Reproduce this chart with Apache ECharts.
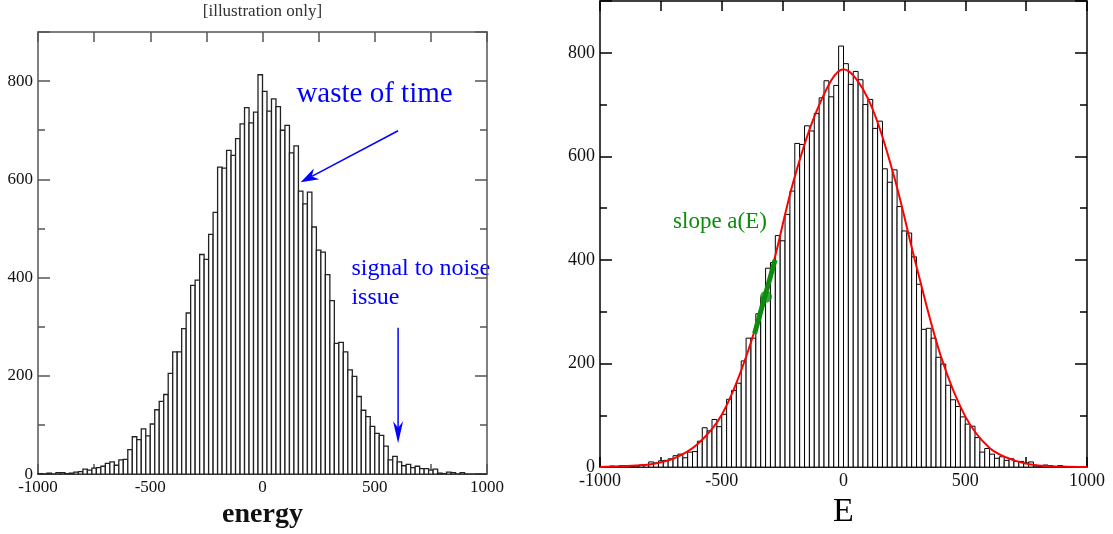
<!DOCTYPE html>
<html>
<head>
<meta charset="utf-8">
<script src="https://cdn.jsdelivr.net/npm/echarts@6/dist/echarts.min.js"></script>
<style>
  html, body { margin: 0; padding: 0; background: #fff; }
  #main { width: 1113px; height: 534px; }
</style>
</head>
<body>
<div id="main"></div>
<script>
// histogram: 100 bins of width 20 between -1000 and 1000
var binStart = -1000;
var binWidth = 20;
var counts = [
  1, 0, 2, 0, 3, 3, 1, 2, 4, 5,
  10, 8, 12, 13, 16, 22, 25, 18, 29, 30,
  50, 76, 70, 92, 78, 102, 131, 148, 162, 205,
  249, 249, 296, 328, 384, 395, 447, 437, 488, 533,
  625, 623, 659, 649, 683, 713, 746, 715, 737, 813,
  779, 739, 764, 748, 700, 710, 654, 668, 576, 550,
  574, 503, 456, 452, 406, 353, 266, 268, 249, 212,
  199, 158, 130, 117, 97, 83, 79, 57, 29, 36,
  25, 17, 20, 13, 16, 11, 11, 8, 10, 2,
  1, 4, 3, 0, 3, 0, 0, 0, 0, 0
];

// red fit curve
var curveX = [-1000, -900, -800, -700, -600, -500, -400, -300, -200, -100, 0,
              100, 200, 300, 400, 500, 600, 700, 800, 900, 1000];
var curveY = [0, 2, 5, 16, 44, 101, 213, 371, 561, 699, 768,
              712, 574, 387, 214, 98, 37, 13, 3, 1, 0];

// green slope segment and its point
var slopeX = [-365, -281];
var slopeY = [258, 400];
var slopePoint = [-318, 329];

var xTicks = [-1000, -500, 0, 500, 1000];
var yTicks = [0, 200, 400, 600, 800];

var serif = '"Liberation Serif", "DejaVu Serif", serif';

var histData = counts.map(function (c, i) {
  return [binStart + binWidth * (i + 0.5), c];
});

function histItem(stroke, width) {
  return function (params, api) {
    var x = api.value(0), y = api.value(1);
    var p0 = api.coord([x - binWidth / 2, y]);
    var p1 = api.coord([x + binWidth / 2, 0]);
    return {
      type: 'rect',
      shape: { x: p0[0], y: p0[1], width: p1[0] - p0[0], height: p1[1] - p0[1] },
      style: { fill: '#fff', stroke: stroke, lineWidth: width }
    };
  };
}

function plain(v) { return String(v); }

function xAxes(g, color, labelSize, name, nameStyle, nameGap) {
  var base = {
    gridIndex: g, type: 'value', min: xTicks[0], max: xTicks[xTicks.length - 1], interval: 500,
    axisLine: { onZero: false, lineStyle: { color: color, width: 1.5 } },
    axisTick: { inside: true, length: 10, lineStyle: { color: color, width: 1.5 } },
    minorTick: { show: true, splitNumber: 2, length: 10, lineStyle: { color: color, width: 1.5 } },
    splitLine: { show: false }
  };
  var bottom = Object.assign({}, base, {
    position: 'bottom',
    axisLabel: { fontFamily: serif, fontSize: labelSize, color: '#111', margin: 5, formatter: plain },
    name: name, nameLocation: 'middle', nameGap: nameGap,
    nameTextStyle: nameStyle
  });
  var top = Object.assign({}, base, { position: 'top', axisLabel: { show: false } });
  return [bottom, top];
}

function yAxes(g, color, labelSize) {
  var base = {
    gridIndex: g, type: 'value', min: 0, max: 900, interval: 200,
    axisLine: { onZero: false, lineStyle: { color: color, width: 1.5 } },
    axisTick: { inside: true, length: 12, lineStyle: { color: color, width: 1.5 } },
    minorTick: { show: true, splitNumber: 2, length: 7, lineStyle: { color: color, width: 1.5 } },
    splitLine: { show: false }
  };
  var left = Object.assign({}, base, {
    position: 'left',
    axisLabel: { fontFamily: serif, fontSize: labelSize, color: '#111', margin: 5,
                 showMaxLabel: false, formatter: plain }
  });
  var right = Object.assign({}, base, { position: 'right', axisLabel: { show: false } });
  return [left, right];
}

var chart = echarts.init(document.getElementById('main'));

chart.setOption({
  animation: false,
  backgroundColor: '#fff',
  grid: [
    { left: 38, top: 32, width: 449, height: 449 },
    { left: 600, top: 1, width: 487, height: 477 }
  ],
  xAxis: xAxes(0, '#555', 17, 'energy',
      { fontFamily: serif, fontSize: 28, fontWeight: 'bold', color: '#111' }, 13)
    .concat(xAxes(1, '#000', 18, 'E',
      { fontFamily: serif, fontSize: 34, color: '#000' }, 22)),
  yAxis: yAxes(0, '#555', 17).concat(yAxes(1, '#000', 18)),
  series: [
    {
      type: 'custom', xAxisIndex: 0, yAxisIndex: 0,
      renderItem: histItem('#222', 1.3), data: histData
    },
    {
      type: 'custom', xAxisIndex: 2, yAxisIndex: 2,
      renderItem: histItem('#000', 1), data: histData
    },
    {
      type: 'line', xAxisIndex: 2, yAxisIndex: 2, smooth: 0.35, symbol: 'none',
      lineStyle: { color: '#ff0000', width: 2 },
      data: curveX.map(function (x, i) { return [x, curveY[i]]; }),
      z: 3
    },
    {
      type: 'line', xAxisIndex: 2, yAxisIndex: 2, symbol: 'none',
      lineStyle: { color: '#0c8c0c', width: 5 },
      data: slopeX.map(function (x, i) { return [x, slopeY[i]]; }),
      z: 4
    },
    {
      type: 'scatter', xAxisIndex: 2, yAxisIndex: 2, symbolSize: 12,
      itemStyle: { color: '#0c8c0c' },
      data: [slopePoint], z: 5
    }
  ]
});

// annotations, placed in data coordinates
function px(g, pt) {
  return chart.convertToPixel({ xAxisIndex: g * 2, yAxisIndex: g * 2 }, pt);
}

function arrow(from, tip, color, headLen, headHalf) {
  var dx = tip[0] - from[0], dy = tip[1] - from[1];
  var len = Math.sqrt(dx * dx + dy * dy);
  var ux = dx / len, uy = dy / len;
  var nx = -uy, ny = ux;
  var bx = tip[0] - ux * headLen, by = tip[1] - uy * headLen;
  var mx = tip[0] - ux * headLen * 0.7, my = tip[1] - uy * headLen * 0.7;
  return [
    { type: 'line', shape: { x1: from[0], y1: from[1], x2: mx, y2: my },
      style: { stroke: color, lineWidth: 1.5 } },
    { type: 'polygon',
      shape: { points: [tip, [bx + nx * headHalf, by + ny * headHalf], [mx, my],
                        [bx - nx * headHalf, by - ny * headHalf]] },
      style: { fill: color } }
  ];
}

var blue = '#0000ff';
var g = [];
var gridL = chart.getModel().getComponent('grid', 0).coordinateSystem.getRect();

g.push({ type: 'text', style: { text: '[illustration only]', x: gridL.x + gridL.width / 2, y: 12,
  align: 'center', verticalAlign: 'middle', font: '17px ' + serif, fill: '#333' } });

var p = px(0, [151, 773]);
g.push({ type: 'text', style: { text: 'waste of time', x: p[0], y: p[1],
  verticalAlign: 'middle', font: '29px ' + serif, fill: blue } });
g = g.concat(arrow(px(0, [604, 699]), px(0, [170, 594]), blue, 18, 6));

p = px(0, [396, 418]);
g.push({ type: 'text', style: { text: 'signal to noise', x: p[0], y: p[1],
  verticalAlign: 'middle', font: '24px ' + serif, fill: blue } });
p = px(0, [396, 360]);
g.push({ type: 'text', style: { text: 'issue', x: p[0], y: p[1],
  verticalAlign: 'middle', font: '24px ' + serif, fill: blue } });
g = g.concat(arrow(px(0, [604, 298]), px(0, [604, 63]), blue, 22, 5));

p = px(1, [-700, 474]);
g.push({ type: 'text', style: { text: 'slope a(E)', x: p[0], y: p[1],
  verticalAlign: 'middle', font: '23px ' + serif, fill: '#0c8c0c' } });

chart.setOption({ graphic: g });
</script>
</body>
</html>
